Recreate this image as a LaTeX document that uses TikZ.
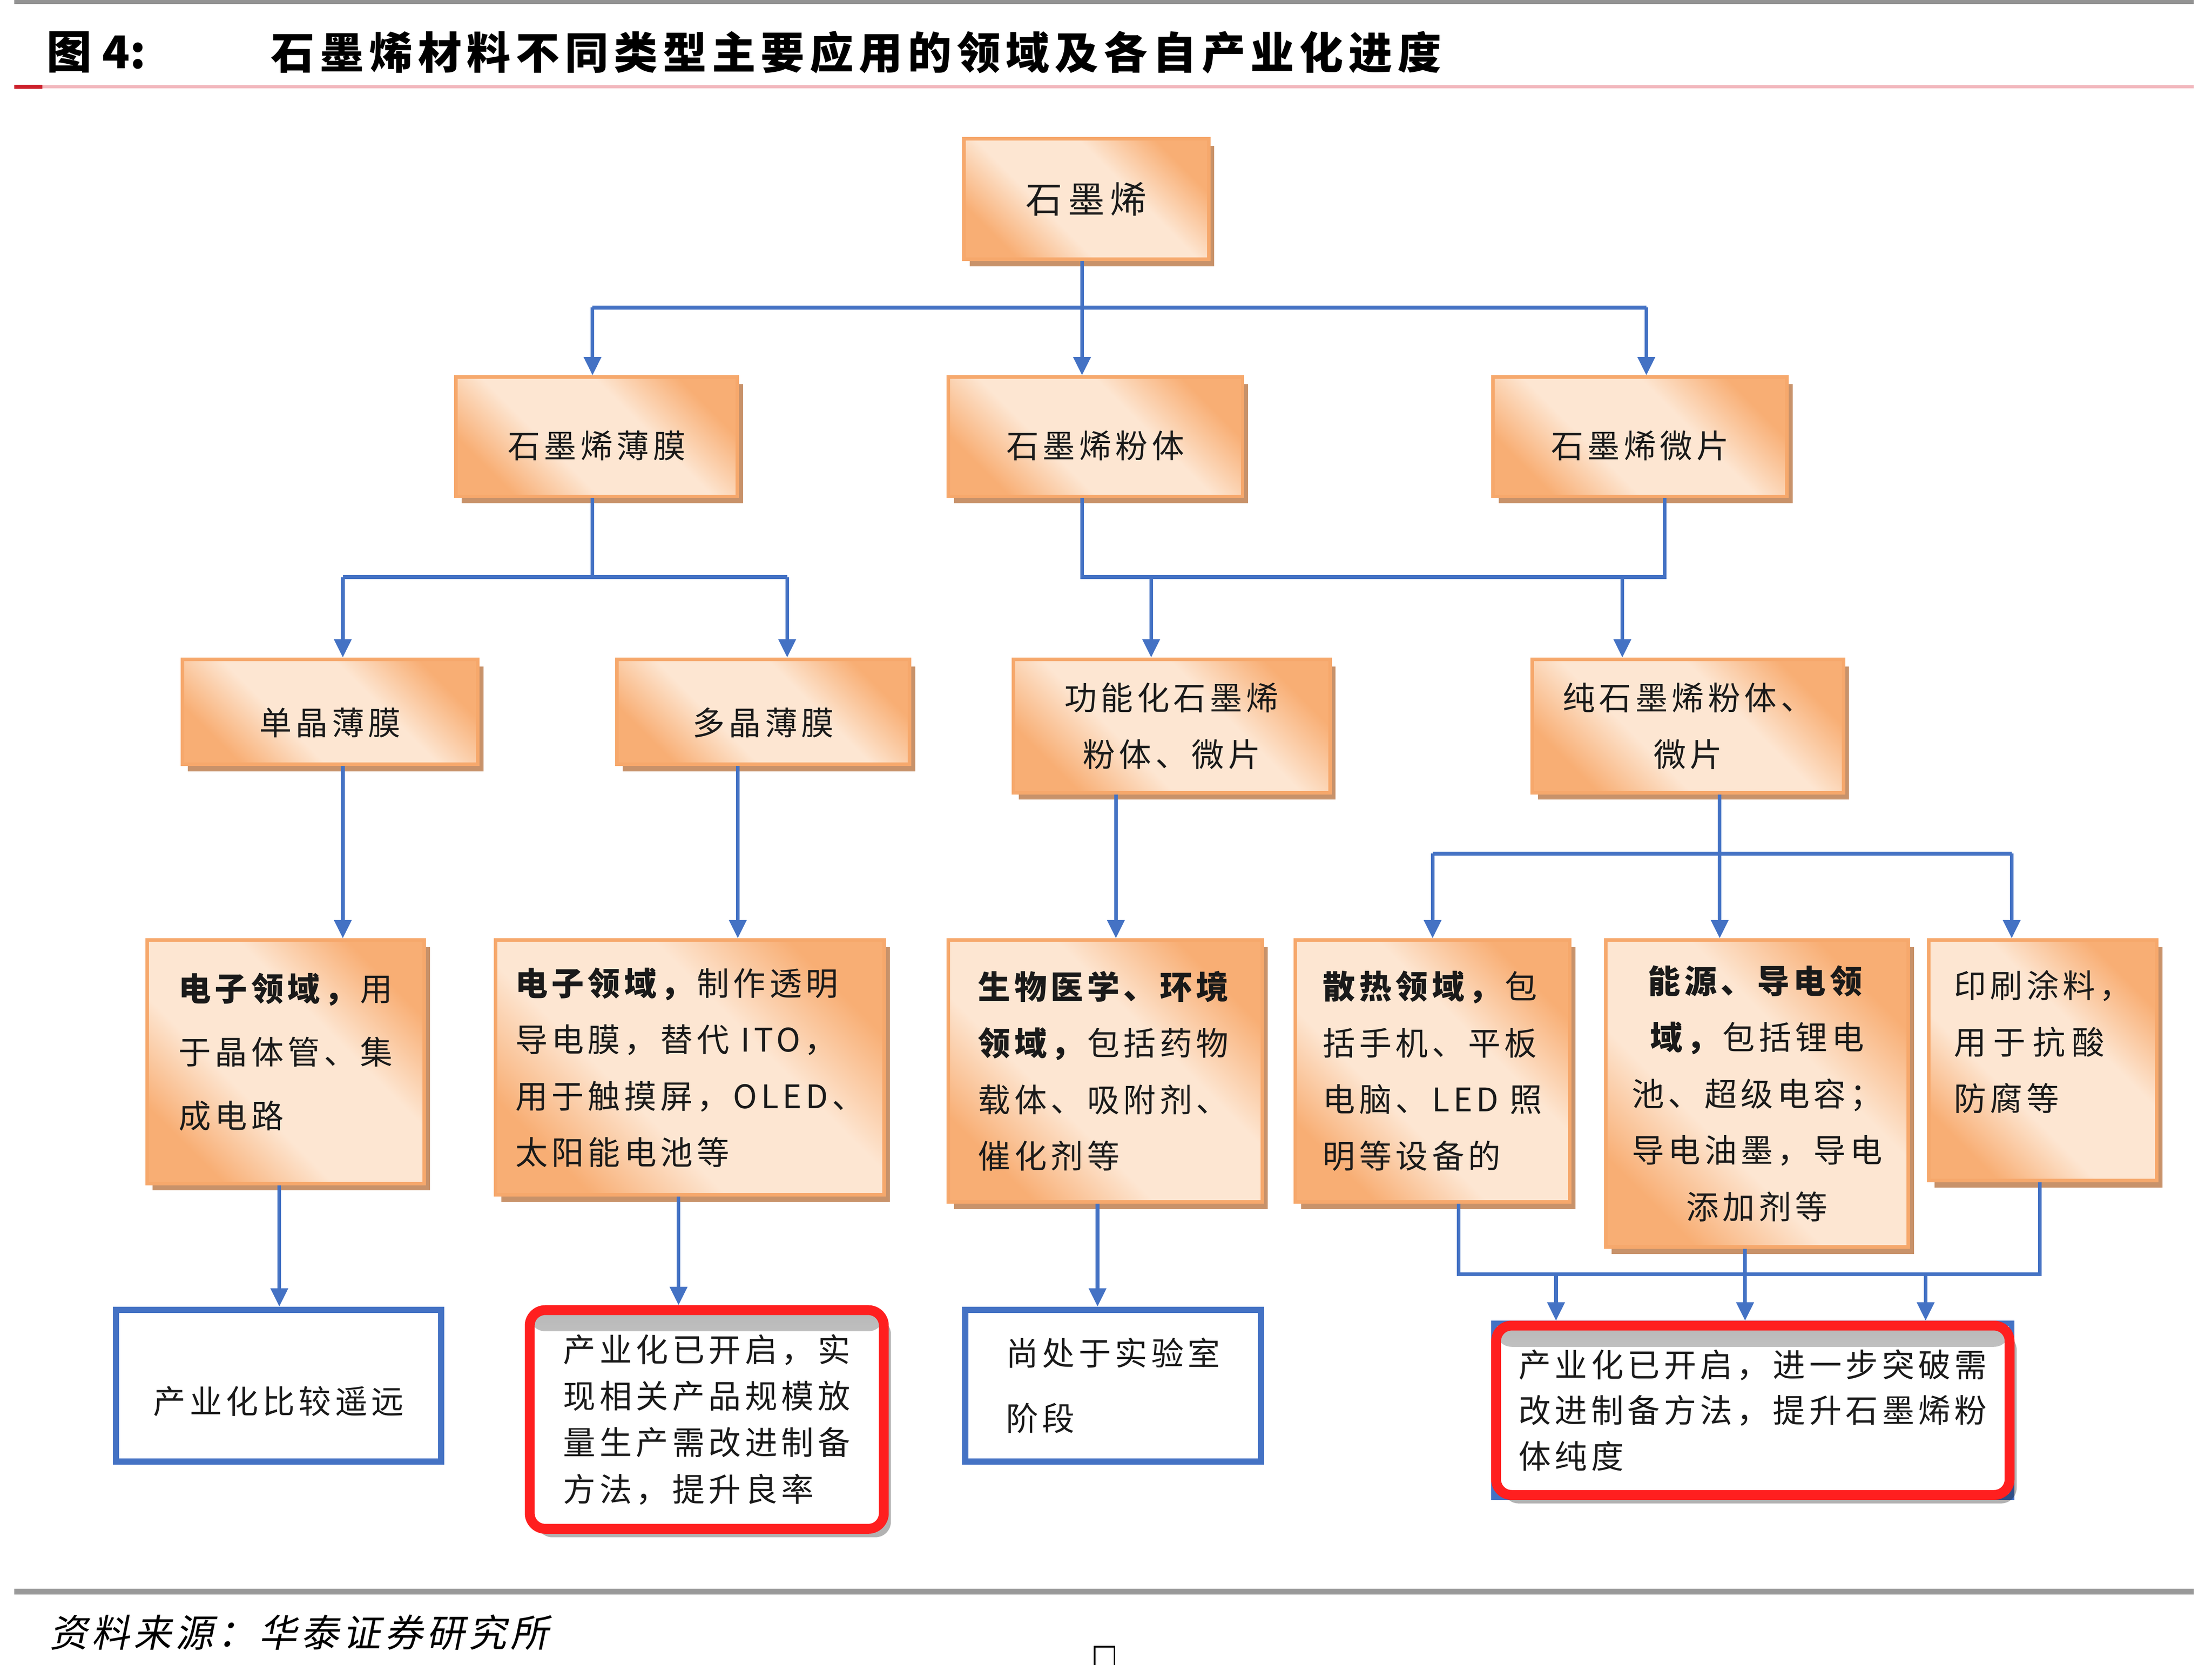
\documentclass[tikz,border=0pt]{standalone}
\usepackage{fontspec}
\setmainfont{Noto Sans CJK SC}
\newfontfamily\bx{Noto Sans CJK SC}[LetterSpace=12]
\newfontfamily\rootfont{Noto Sans CJK SC}[LetterSpace=15]
\newfontfamily\srcfont{Noto Sans CJK SC}[FakeSlant=0.2,LetterSpace=10]
\usetikzlibrary{arrows.meta,shadows}
\definecolor{cblue}{HTML}{4472C4}
\definecolor{pkD}{HTML}{F8AE74}
\definecolor{pkL}{HTML}{FDE6D2}
\definecolor{pkB}{HTML}{F6A86C}
\definecolor{shb}{HTML}{C8926A}
\definecolor{rbox}{HTML}{FF1F1F}
\definecolor{rulepink}{HTML}{F2B8BE}
\definecolor{rulered}{HTML}{CC1F2A}
\definecolor{txt}{HTML}{1A1A1A}
\pgfdeclarehorizontalshading{peach}{100bp}{color(0bp)=(pkD); color(25bp)=(pkD); color(40bp)=(pkL); color(60bp)=(pkL); color(75bp)=(pkD); color(100bp)=(pkD)}
\tikzset{
  orbox/.style={draw=pkB, line width=2.5pt, shading=peach, shading angle=45,
    drop shadow={shadow xshift=4pt,shadow yshift=-5pt,fill=shb,opacity=1},
    inner sep=0pt, anchor=north west, text=txt, align=left,
    font=\bx\fontsize{23}{40}\selectfont},
  blbox/.style={draw=cblue, line width=4.5pt, fill=white, inner sep=0pt,
    anchor=north west, text=txt, align=left, font=\bx\fontsize{23}{46}\selectfont},
  rdbox/.style={draw=rbox, line width=7pt, rounded corners=11pt, fill=white,
    drop shadow={shadow xshift=5pt,shadow yshift=-6pt,fill=black,opacity=0.3},
    path picture={\shade[top color=black!28, bottom color=white]
      (path picture bounding box.north west) rectangle ([yshift=-15pt]path picture bounding box.north east);},
    inner sep=0pt, anchor=north west, text=txt, align=left,
    font=\bx\fontsize{23}{33}\selectfont},
  ln/.style={draw=cblue, line width=2.6pt},
  arr/.style={ln, -{Triangle[length=13pt,width=12pt]}}
}
\begin{document}
\begin{tikzpicture}[x=1pt,y=-1pt]
\useasboundingbox (0,0) rectangle (1568,1180);
% header and footer rules
\draw[gray!85, line width=3pt] (10,1.5) -- (1555,1.5);
\draw[rulepink, line width=2pt] (30,61.5) -- (1555,61.5);
\draw[rulered, line width=3pt] (10,61.5) -- (30,61.5);
\draw[gray!80, line width=4pt] (10,1128) -- (1555,1128);
\node[anchor=west, inner sep=0pt, font=\bfseries\fontsize{32}{36}\selectfont] (fig) at (33,37) {图 4:};
\node[anchor=west, inner sep=0pt, font=\bx\bfseries\fontsize{31}{36}\selectfont] (title) at (192,37) {石墨烯材料不同类型主要应用的领域及各自产业化进度};
\node[anchor=west, inner sep=0pt, font=\srcfont\fontsize{27}{30}\selectfont] (src) at (35,1157) {资料来源：华泰证券研究所};
\draw[black, line width=1.2pt] (776,1167) rectangle (790,1186);

% level 1-3
\node[orbox, font=\rootfont\fontsize{26}{30}\selectfont, minimum width=173.5pt, minimum height=85.5pt] (root) at (682,97) {石墨烯};
\node[orbox, minimum width=199.5pt, minimum height=84.5pt] (film) at (322,266) {\mbox{}\\[-8pt]石墨烯薄膜};
\node[orbox, minimum width=208.5pt, minimum height=84.5pt] (powder) at (671,266) {\mbox{}\\[-8pt]石墨烯粉体};
\node[orbox, minimum width=208.5pt, minimum height=84.5pt] (flake) at (1057,266) {\mbox{}\\[-8pt]石墨烯微片};
\node[orbox, minimum width=209.5pt, minimum height=74.5pt] (single) at (128,466) {\mbox{}\\[-5pt]单晶薄膜};
\node[orbox, minimum width=207.5pt, minimum height=74.5pt] (poly) at (436,466) {\mbox{}\\[-5pt]多晶薄膜};
\node[orbox, align=center, minimum width=224.5pt, minimum height=94.5pt] (func) at (717,466) {功能化石墨烯\\粉体、微片};
\node[orbox, align=center, minimum width=220.5pt, minimum height=94.5pt] (pure) at (1085,466) {纯石墨烯粉体、\\微片};

% level 4
\node[orbox, font=\bx\fontsize{23}{45}\selectfont, minimum width=196.5pt, minimum height=172.5pt] (appA) at (103,665) {\textbf{电子领域，}用\\于晶体管、集\\成电路\\[-29pt]\mbox{}};
\node[orbox, minimum width=275.5pt, minimum height=180.5pt] (appB) at (350,665) {\textbf{电子领域，}制作透明\\导电膜，替代 ITO，\\用于触摸屏，OLED、\\太阳能电池等};
\node[orbox, minimum width=222.5pt, minimum height=185.5pt] (appC) at (671,665) {\textbf{生物医学、环境}\\\textbf{领域，}包括药物\\载体、吸附剂、\\催化剂等};
\node[orbox, minimum width=194.5pt, minimum height=185.5pt] (appD) at (917,665) {\textbf{散热领域，}包\\括手机、平板\\电脑、LED 照\\明等设备的};
\node[orbox, align=center, minimum width=214.5pt, minimum height=217.5pt] (appE) at (1137,665) {\textbf{能源、导电领}\\\textbf{域，}包括锂电\\池、超级电容；\\导电油墨，导电\\添加剂等};
\node[orbox, minimum width=161.5pt, minimum height=170.5pt] (appF) at (1366,665) {印刷涂料，\\用\hspace{5pt}于\hspace{5pt}抗\hspace{5pt}酸\\防腐等\\[-12pt]\mbox{}};

% level 5
\node[blbox, minimum width=230.5pt, minimum height=107.5pt] (G) at (80,926) {\mbox{}\\[-4pt]产业化比较遥远};
\node[rdbox, minimum width=251pt, minimum height=155pt] (H) at (372,925) {产业化已开启，实\\现相关产品规模放\\量生产需改进制备\\方法，提升良率};
\node[blbox, minimum width=209.5pt, minimum height=107.5pt] (I) at (682,926) {尚处于实验室\\阶段};
\draw[cblue, line width=4pt] (1059,938) rectangle (1426,1061);
\node[rdbox, font=\bx\fontsize{23}{32.5}\selectfont, minimum width=364pt, minimum height=120pt] (J) at (1057,936) {产业化已开启，进一步突破需\\改进制备方法，提升石墨烯粉\\体纯度};

% junction levels
\coordinate (r1) at (0,218);
\coordinate (r2) at (0,409);
\coordinate (r3) at (0,605);
\coordinate (r4) at (0,903);

% level 1 -> 2
\draw[arr] ([xshift=-3pt]root.south) -- ([xshift=-3pt]root.south |- powder.north);
\draw[ln] ([xshift=-3pt]film.north |- r1) -- ([xshift=4.5pt]flake.north |- r1);
\draw[arr] ([xshift=-3pt]film.north |- r1) -- ([xshift=-3pt]film.north);
\draw[arr] ([xshift=4.5pt]flake.north |- r1) -- ([xshift=4.5pt]flake.north);

% level 2 -> 3
\draw[ln] ([xshift=-3pt]film.south) -- ([xshift=-3pt]film.south |- r2);
\draw[ln] ([xshift=9pt]single.north |- r2) -- ([xshift=17pt]poly.north |- r2);
\draw[arr] ([xshift=9pt]single.north |- r2) -- ([xshift=9pt]single.north);
\draw[arr] ([xshift=17pt]poly.north |- r2) -- ([xshift=17pt]poly.north);
\draw[ln] ([xshift=-9.5pt]powder.south) -- ([xshift=-9.5pt]powder.south |- r2) -- ([xshift=17.5pt]flake.south |- r2) -- ([xshift=17.5pt]flake.south);
\draw[arr] ([xshift=-14.5pt]func.north |- r2) -- ([xshift=-14.5pt]func.north);
\draw[arr] ([xshift=-46.5pt]pure.north |- r2) -- ([xshift=-46.5pt]pure.north);

% level 3 -> 4
\draw[arr] ([xshift=9pt]single.south) -- ([xshift=9pt]single.south |- appA.north);
\draw[arr] ([xshift=-18pt]poly.south) -- ([xshift=-18pt]poly.south |- appB.north);
\draw[arr] ([xshift=-39.5pt]func.south) -- ([xshift=-39.5pt]func.south |- appC.north);
\draw[arr] ([xshift=22.5pt]pure.south) -- ([xshift=22.5pt]pure.south |- appE.north);
\draw[ln] (appD.north |- r3) -- ([xshift=-22pt]appF.north |- r3);
\draw[arr] (appD.north |- r3) -- (appD.north);
\draw[arr] ([xshift=-22pt]appF.north |- r3) -- ([xshift=-22pt]appF.north);

% level 4 -> 5
\draw[arr] ([xshift=-4.5pt]appA.south) -- ([xshift=-4.5pt]appA.south |- G.north);
\draw[arr] ([xshift=-8pt]appB.south) -- ([xshift=-8pt]appB.south |- H.north);
\draw[arr] ([xshift=-5.5pt]appC.south) -- ([xshift=-5.5pt]appC.south |- I.north);
\draw[ln] ([xshift=18.5pt]appD.south) -- ([xshift=18.5pt]appD.south |- r4) -- ([xshift=-2pt]appF.south |- r4) -- ([xshift=-2pt]appF.south);
\draw[arr] ([xshift=-8.5pt]appE.south) -- ([xshift=-8.5pt]appE.south |- J.north);
\draw[arr] ([xshift=-139.5pt]J.north |- r4) -- ([xshift=-139.5pt]J.north);
\draw[arr] ([xshift=122.5pt]J.north |- r4) -- ([xshift=122.5pt]J.north);
\end{tikzpicture}
\end{document}
